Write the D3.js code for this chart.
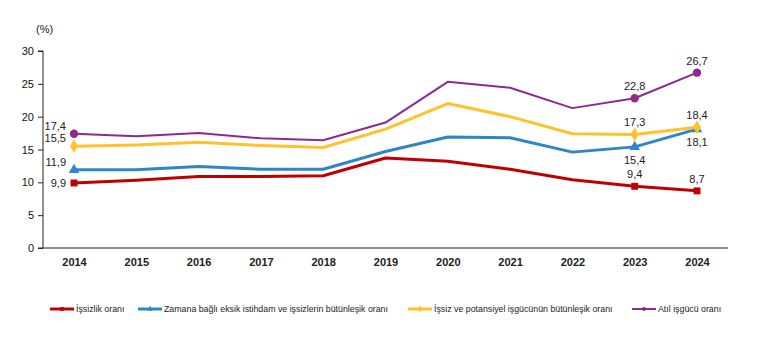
<!DOCTYPE html>
<html><head><meta charset="utf-8">
<script src="https://cdn.jsdelivr.net/npm/d3@7"></script>
<style>body{margin:0;background:#fff}svg{display:block;font-family:"Liberation Sans",Arial,sans-serif}</style>
</head><body><svg id="c" width="781" height="337"></svg>
<script>
const years = [2014,2015,2016,2017,2018,2019,2020,2021,2022,2023,2024];
const issizlik = [9.9,10.3,10.9,10.9,11.0,13.7,13.2,12.0,10.4,9.4,8.7];
const zamana = [11.9,11.9,12.4,12.0,12.0,14.7,16.9,16.8,14.6,15.4,18.1];
const potansiyel = [15.5,15.7,16.1,15.6,15.3,18.1,22.0,20.0,17.4,17.3,18.4];
const atil = [17.4,17.0,17.5,16.7,16.4,19.1,25.3,24.4,21.3,22.8,26.7];
const yTicks = [0,5,10,15,20,25,30];
const seriesNames = ["İşsizlik oranı","Zamana bağlı eksik istihdam ve işsizlerin bütünleşik oranı","İşsiz ve potansiyel işgücünün bütünleşik oranı","Atıl işgücü oranı"];

const svg = d3.select("#c");
const x = d3.scalePoint().domain(years).range([74,697]);
const y = d3.scaleLinear().domain([0,30]).range([248,51]);

const series = [
  {name:seriesNames[0], values:issizlik, color:"#C00000", w:3, marker:"square",
   labels:{0:"left",9:"above",10:"above"}},
  {name:seriesNames[1], values:zamana, color:"#2E86C8", w:3, marker:"triangle",
   labels:{0:"left",9:"below",10:"below"}},
  {name:seriesNames[2], values:potansiyel, color:"#FFC12E", w:3, marker:"diamond",
   labels:{0:"left",9:"above",10:"above"}},
  {name:seriesNames[3], values:atil, color:"#8E2A8E", w:2, marker:"circle",
   labels:{0:"left",9:"above",10:"above"}}
];

// axes
const yAxis = svg.append("g").attr("transform","translate(43,0)")
  .call(d3.axisLeft(y).tickValues(yTicks).tickSize(5).tickPadding(4));
yAxis.select(".domain").attr("stroke","#222").attr("d","M-5,248H0V51H-5");
yAxis.selectAll(".tick line").attr("stroke","#222");
yAxis.selectAll("text").attr("font-size",11).attr("fill","#111").attr("font-family","Liberation Sans, Arial");

const xAxis = svg.append("g").attr("transform","translate(0,248)")
  .call(d3.axisBottom(x).tickSize(0).tickPadding(10).tickFormat(d3.format("d")));
xAxis.select(".domain").attr("stroke","#222").attr("d","M43,0H728");
xAxis.selectAll("text").attr("font-size",11).attr("font-weight","bold").attr("fill","#222").attr("font-family","Liberation Sans, Arial");

svg.append("text").attr("x",36).attr("y",33).attr("font-size",11).attr("fill","#222").text("(%)");

const line = d3.line().x((d,i)=>x(years[i])).y(d=>y(d));
const symType = {square:d3.symbolSquare, triangle:d3.symbolTriangle, diamond:d3.symbolDiamond, circle:d3.symbolCircle};
const fmt = v => d3.format(".1f")(v).replace(".",",");

series.forEach(s=>{
  svg.append("path").datum(s.values).attr("d",line).attr("fill","none")
    .attr("stroke",s.color).attr("stroke-width",s.w).attr("stroke-linejoin","round");
  [0,9,10].forEach(i=>{
    svg.append("path").attr("d",d3.symbol(symType[s.marker]).size(s.marker==="diamond"?55:s.marker==="circle"?55:48)())
      .attr("transform",`translate(${x(years[i])},${y(s.values[i])})`).attr("fill",s.color);
    const pos = s.labels[i];
    const t = svg.append("text").attr("font-size",11).attr("fill","#222").text(fmt(s.values[i]));
    if(pos==="left"){
      t.attr("x",x(years[i])-8).attr("y",y(s.values[i])+ (s.marker==="square"?4:-4)).attr("text-anchor","end");
    } else if(pos==="above"){
      t.attr("x",x(years[i])).attr("y",y(s.values[i])-8).attr("text-anchor","middle");
    } else {
      t.attr("x",x(years[i])).attr("y",y(s.values[i])+17).attr("text-anchor","middle");
    }
  });
});

// legend
const legX = [50,138,408,632];
const leg = svg.append("g");
series.forEach((s,i)=>{
  const g = leg.append("g").attr("transform",`translate(${legX[i]},309)`);
  g.append("line").attr("x1",0).attr("x2",24).attr("y1",0).attr("y2",0).attr("stroke",s.color).attr("stroke-width",s.w);
  g.append("path").attr("d",d3.symbol(symType[s.marker]).size(14)()).attr("transform","translate(12,0)").attr("fill",s.color);
  g.append("text").attr("x",26).attr("y",3).attr("font-size",8.8).attr("fill","#222").text(s.name);
});
</script></body></html>
